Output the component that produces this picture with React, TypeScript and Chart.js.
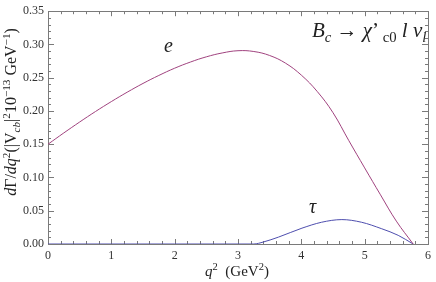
import React, { useEffect, useRef } from "react";
import { Chart, registerables } from "chart.js";

Chart.register(...registerables);

const eQ = [0, 0.25, 0.5, 0.75, 1.0, 1.25, 1.5, 1.75, 2.0, 2.25, 2.5, 2.75, 3.0, 3.25, 3.5, 3.75, 4.0, 4.25, 4.5, 4.75, 5.0, 5.25, 5.5, 5.766];
const eVal = [0.15, 0.167, 0.1834, 0.1992, 0.2141, 0.2282, 0.2414, 0.2534, 0.2643, 0.2736, 0.2814, 0.2872, 0.2906, 0.2894, 0.2834, 0.2719, 0.2539, 0.2294, 0.1974, 0.1554, 0.1144, 0.0739, 0.0344, 0];
const tauQ = [0, 1, 2, 3, 3.25, 3.4, 3.64, 4.01, 4.32, 4.64, 4.95, 5.27, 5.53, 5.766];
const tauVal = [0, 0, 0, 0, 0, 0.003, 0.0104, 0.0238, 0.0327, 0.0367, 0.0327, 0.0229, 0.013, 0];
const xTicks = [0, 1, 2, 3, 4, 5, 6];
const yTicks = [0, 0.05, 0.1, 0.15, 0.2, 0.25, 0.3, 0.35];

const SERIF = "'Liberation Serif', 'DejaVu Serif', serif";

type Seg = { t: string; it?: boolean; s?: number; dy?: number };

function segWidth(ctx: CanvasRenderingContext2D, segs: Seg[], size: number) {
  let w = 0;
  for (const g of segs) {
    ctx.font = `${g.it ? "italic " : ""}${size * (g.s || 1)}px ${SERIF}`;
    w += ctx.measureText(g.t).width;
  }
  return w;
}

function drawRich(ctx: CanvasRenderingContext2D, segs: Seg[], x: number, y: number, size: number) {
  let cx = x;
  ctx.textBaseline = "alphabetic";
  ctx.textAlign = "left";
  for (const g of segs) {
    ctx.font = `${g.it ? "italic " : ""}${size * (g.s || 1)}px ${SERIF}`;
    ctx.fillText(g.t, cx, y + (g.dy || 0) * size);
    cx += ctx.measureText(g.t).width;
  }
}

const yLabel: Seg[] = [
  { t: "d", it: true }, { t: "Γ" }, { t: "/" }, { t: "dq", it: true },
  { t: "2", s: 0.7, dy: -0.4 }, { t: "(|V" }, { t: "cb", it: true, s: 0.7, dy: 0.25 },
  { t: "|" }, { t: "2", s: 0.7, dy: -0.4 }, { t: "10" }, { t: "−13", s: 0.7, dy: -0.4 },
  { t: " GeV" }, { t: "−1", s: 0.7, dy: -0.35 }, { t: ")" },
];
const xLabel: Seg[] = [
  { t: "q", it: true }, { t: "2", s: 0.7, dy: -0.4 }, { t: "  (GeV" }, { t: "2", s: 0.7, dy: -0.4 }, { t: ")" },
];
const title: Seg[] = [
  { t: "B", it: true }, { t: "c", it: true, s: 0.7, dy: 0.22 }, { t: " → " }, { t: "χ", it: true },
  { t: "’" }, { t: " c0", s: 0.7, dy: 0.22 }, { t: " l ", it: true }, { t: "ν", it: true },
  { t: "l", it: true, s: 0.7, dy: 0.22 },
];

const framePlugin = {
  id: "frame",
  beforeDatasetsDraw(chart: any) {
    const { ctx, chartArea: a, scales } = chart;
    const xs = scales.x, ys = scales.y;
    ctx.save();
    ctx.strokeStyle = "#7a7a7a";
    ctx.lineWidth = 1;
    ctx.strokeRect(Math.round(a.left) + 0.5, Math.round(a.top) + 0.5, Math.round(a.right - a.left), Math.round(a.bottom - a.top));
    ctx.beginPath();
    for (let i = 0; i <= 30; i++) {
      const v = i * 0.2;
      const px = Math.round(xs.getPixelForValue(v)) + 0.5;
      const len = i % 5 === 0 ? 5 : 3;
      ctx.moveTo(px, a.bottom); ctx.lineTo(px, a.bottom - len);
      ctx.moveTo(px, a.top); ctx.lineTo(px, a.top + len);
    }
    for (let i = 0; i <= 35; i++) {
      const v = i * 0.01;
      const py = Math.round(ys.getPixelForValue(v)) + 0.5;
      const len = i % 5 === 0 ? 6 : 3;
      ctx.moveTo(a.left, py); ctx.lineTo(a.left + len, py);
      ctx.moveTo(a.right, py); ctx.lineTo(a.right - len, py);
    }
    ctx.stroke();
    ctx.restore();
  },
  afterDraw(chart: any) {
    const { ctx } = chart;
    ctx.save();
    ctx.fillStyle = "#222";
    drawRich(ctx, title, 312, 37, 21);
    ctx.font = `italic 20px ${SERIF}`;
    ctx.fillText("e", 164, 52);
    ctx.fillText("τ", 309, 213);
    const xs = 15;
    const xw = segWidth(ctx, xLabel, xs);
    drawRich(ctx, xLabel, 237 - xw / 2, 276, xs);
    const ysz = 16;
    const yw = segWidth(ctx, yLabel, ysz);
    ctx.translate(16, 112);
    ctx.rotate(-Math.PI / 2);
    drawRich(ctx, yLabel, -yw / 2, 0, ysz);
    ctx.restore();
  },
};

export default function App() {
  const ref = useRef<HTMLCanvasElement>(null);
  useEffect(() => {
    document.body.style.margin = "0";
    const eData = eQ.map((q, i) => ({ x: q, y: eVal[i] }));
    const tData = tauQ.map((q, i) => ({ x: q, y: tauVal[i] }));
    const chart = new Chart(ref.current!, {
      type: "line",
      data: {
        datasets: [
          { data: eData, borderColor: "#a0437f", borderWidth: 1, pointRadius: 0, tension: 0.4, fill: false },
          { data: tData, borderColor: "#4e4eae", borderWidth: 1, pointRadius: 0, cubicInterpolationMode: "monotone", fill: false },
        ],
      },
      options: {
        animation: false,
        responsive: false,
        maintainAspectRatio: false,
        layout: { padding: { top: 8, right: 6, left: 0, bottom: 0 } },
        plugins: { legend: { display: false }, tooltip: { enabled: false }, title: { display: false } },
        scales: {
          x: {
            type: "linear", min: 0, max: 6,
            grid: { display: false, drawTicks: false },
            border: { display: false },
            afterFit: (s: any) => { s.height = 38; },
            afterBuildTicks: (s: any) => { s.ticks = xTicks.map((v) => ({ value: v })); },
            ticks: { font: { family: SERIF, size: 12 }, color: "#333", padding: 5, maxRotation: 0, callback: (v: any) => String(v) },
          },
          y: {
            type: "linear", min: 0, max: 0.35,
            grid: { display: false, drawTicks: false },
            border: { display: false },
            afterFit: (s: any) => { s.width = 48; },
            afterBuildTicks: (s: any) => { s.ticks = yTicks.map((v) => ({ value: v })); },
            ticks: { font: { family: SERIF, size: 12 }, color: "#333", padding: 4, callback: (v: any) => Number(v).toFixed(2) },
          },
        },
      },
      plugins: [framePlugin],
    } as any);
    return () => chart.destroy();
  }, []);
  return <canvas ref={ref} width={436} height={282} style={{ display: "block" }} />;
}
